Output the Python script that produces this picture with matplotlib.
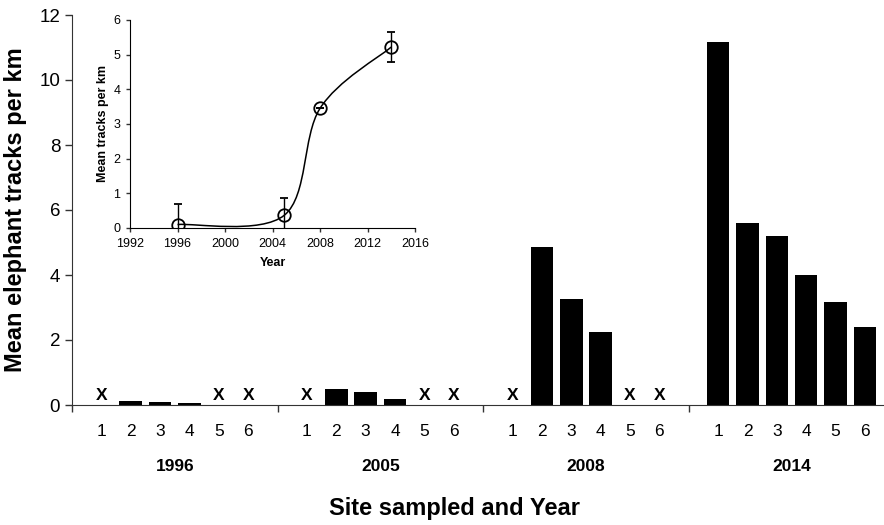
import numpy as np
import matplotlib
matplotlib.use("Agg")
import matplotlib.pyplot as plt
from matplotlib.path import Path
from matplotlib.patches import PathPatch

plt.rcParams['font.family'] = ['Liberation Sans', 'DejaVu Sans']

# ---- data ----
years = ['1996', '2005', '2008', '2014']
sites = [1, 2, 3, 4, 5, 6]
nan = np.nan
tracks_1996 = [nan, 0.13, 0.09, 0.05, nan, nan]
tracks_2005 = [nan, 0.49, 0.41, 0.18, nan, nan]
tracks_2008 = [nan, 4.87, 3.26, 2.26, nan, nan]
tracks_2014 = [11.17, 5.61, 5.20, 4.00, 3.18, 2.39]
y_ticks = [0, 2, 4, 6, 8, 10, 12]

inset_years = [1996, 2005, 2008, 2014]
inset_means = [0.10, 0.37, 3.45, 5.22]
inset_err = [0.60, 0.50, 0.0, 0.42]
inset_xticks = [1992, 1996, 2000, 2004, 2008, 2012, 2016]
inset_yticks = [0, 1, 2, 3, 4, 5, 6]

series = [tracks_1996, tracks_2005, tracks_2008, tracks_2014]

fig = plt.figure(figsize=(8.84, 5.25), dpi=100)
ax = fig.add_axes([72/884, 1-405/525, 1-72/884, (405-15)/525])

group_gap = len(sites) + 1
for g, (yr, vals) in enumerate(zip(years, series)):
    xs = [g*group_gap + s for s in sites]
    for x, v, s in zip(xs, vals, sites):
        if np.isnan(v):
            ax.text(x, 0.15, 'X', ha='center', va='baseline', fontsize=12.5,
                    fontweight='bold')
        else:
            ax.bar(x, v, width=0.77, color='black')
        ax.text(x, -0.8, str(s), ha='center', va='center', fontsize=12.5)
    ax.text(g*group_gap + np.mean(sites), -1.9, yr, ha='center',
            va='center', fontsize=12.5, fontweight='bold')

ax.set_xlim(0, 27.65)
ax.set_ylim(0, 12)
ax.set_yticks(y_ticks)
ax.set_yticklabels([str(t) for t in y_ticks], fontsize=13.5)
ax.set_xticks([g*group_gap for g in range(len(years))])
ax.set_xticklabels([])
ax.tick_params(axis='both', direction='out', length=5, width=1, color='#333333')
for sp in ['top', 'right']:
    ax.spines[sp].set_visible(False)
for sp in ['left', 'bottom']:
    ax.spines[sp].set_color('#333333')
ax.set_ylabel('Mean elephant tracks per km', fontsize=17, fontweight='bold',
              labelpad=9)
fig.text(455/884, 1-509/525, 'Site sampled and Year', ha='center', va='center',
         fontsize=17, fontweight='bold')

# ---- inset ----
ins = fig.add_axes([130/884, 1-228/525, (415-130)/884, (228-20)/525])
px = np.array(inset_years, dtype=float)
py = np.array(inset_means, dtype=float)
# smoothed line (Catmull-Rom style bezier, as in spreadsheet smoothing)
P = np.column_stack([px, py])
Pext = np.vstack([P[0], P, P[-1]])
verts = [tuple(P[0])]
codes = [Path.MOVETO]
for i in range(len(P)-1):
    p0, p1, p2, p3 = Pext[i], Pext[i+1], Pext[i+2], Pext[i+3]
    c1 = p1 + (p2 - p0)/6
    c2 = p2 - (p3 - p1)/6
    verts += [tuple(c1), tuple(c2), tuple(p2)]
    codes += [Path.CURVE4]*3
ins.add_patch(PathPatch(Path(verts, codes), facecolor='none', edgecolor='black', lw=1.1))
ins.errorbar(px, py, yerr=inset_err, fmt='o', mfc='none', mec='black', mew=1.3,
             ms=9, ecolor='black', elinewidth=1, capsize=3, capthick=1)
ins.set_xlim(1992, 2016)
ins.set_ylim(0, 6)
ins.set_xticks(inset_xticks)
ins.set_xticklabels([str(t) for t in inset_xticks], fontsize=9)
ins.set_yticks(inset_yticks)
ins.set_yticklabels([str(t) for t in inset_yticks], fontsize=9)
ins.tick_params(direction='out', length=3, width=1, color='#333333', pad=4)
for sp in ['top', 'right']:
    ins.spines[sp].set_visible(False)
ins.set_xlabel('Year', fontsize=9, fontweight='bold', labelpad=5)
ins.set_ylabel('Mean tracks per km', fontsize=9, fontweight='bold', labelpad=3)
ins.patch.set_alpha(0)

fig.savefig('out.png', dpi=100)
